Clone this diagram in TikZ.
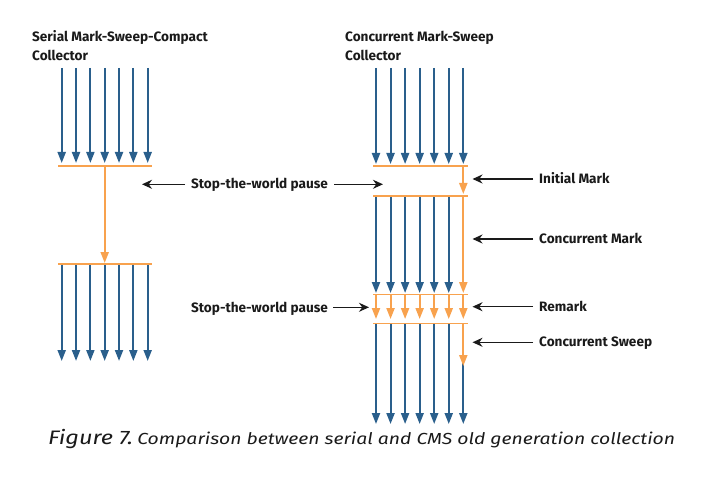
\documentclass[tikz,border=0pt]{standalone}
\usepackage{fontspec}
\setmainfont{Fira Sans}
\newfontfamily\capfont[FakeStretch=1.21]{Fira Sans}
\usetikzlibrary{arrows.meta}
\definecolor{gcblue}{HTML}{2A5F8C}
\definecolor{gcorange}{HTML}{F8A24E}
\definecolor{lblack}{HTML}{1A1A1A}
\tikzset{
  bluearrow/.style={draw=gcblue, line width=2pt, -{Triangle[width=8pt,length=11pt]}},
  orarrow/.style={draw=gcorange, line width=2pt, -{Triangle[width=8pt,length=11pt]}},
  orline/.style={draw=gcorange, line width=1.7pt},
  lblarrow/.style={draw=lblack, line width=1.4pt, -{Stealth[width=9pt,length=10pt]}},
  ttl/.style={font=\bfseries\fontsize{13.6}{16}\selectfont, anchor=base west, inner sep=0pt, text=lblack},
  lbl/.style={font=\bfseries\fontsize{13.6}{16}\selectfont, anchor=base west, inner sep=0pt, text=lblack},
}
\begin{document}
\begin{tikzpicture}[x=1pt,y=-1pt]
\useasboundingbox (0,0) rectangle (712,489);
% titles
\node[ttl] (t1a) at (32,41.7) {Serial Mark-Sweep-Compact};
\node[ttl] (t1b) at (32,60.7) {Collector};
\node[ttl] (t2a) at (345,41.7) {Concurrent Mark-Sweep};
\node[ttl] (t2b) at (345,60.7) {Collector};
% ---------- left collector ----------
\foreach \i in {0,...,6} {
  \pgfmathsetmacro{\xx}{61.7+14.33*\i}
  \draw[bluearrow] (\xx,68) -- (\xx,163);
  \draw[bluearrow] (\xx,264) -- (\xx,361);
}
\draw[orline] (58,166) -- (152,166);
\draw[orline] (58,264) -- (152,264);
\draw[orarrow] (104.7,166) -- (104.7,263);
% ---------- right collector ----------
\foreach \i in {0,...,6} {
  \pgfmathsetmacro{\xx}{376+14.55*\i}
  \draw[bluearrow] (\xx,68) -- (\xx,164);
  \draw[orarrow] (\xx,294.5) -- (\xx,319);
}
\foreach \i in {0,...,5} {
  \pgfmathsetmacro{\xx}{376+14.55*\i}
  \draw[bluearrow] (\xx,196) -- (\xx,293);
  \draw[bluearrow] (\xx,323.5) -- (\xx,424);
}
\draw[orarrow] (463.3,166) -- (463.3,194);
\draw[orarrow] (463.3,196) -- (463.3,293);
\draw[bluearrow] (463.3,360) -- (463.3,424);
\draw[orarrow] (463.3,323.5) -- (463.3,366);
\draw[orline] (373,166) -- (468,166);
\draw[orline] (373,196) -- (468,196);
\draw[orline] (373,294.5) -- (468,294.5);
\draw[orline] (373,323.5) -- (468,323.5);
% ---------- labels ----------
\node[lbl] (stw1) at (191,189) {Stop-the-world pause};
\coordinate (stw1l) at (142,184.3);
\coordinate (stw1r) at (383,184.3);
\draw[lblarrow] (stw1.west |- stw1l) ++(-6,0) coordinate (s1a) -- (stw1l);
\draw[lblarrow] (stw1.east |- stw1r) ++(6,0) coordinate (s1b) -- (stw1r);
\node[lbl] (stw2) at (191,312) {Stop-the-world pause};
\coordinate (stw2r) at (369,307.3);
\draw[lblarrow] (stw2.east |- stw2r) ++(5,0) coordinate (s2b) -- (stw2r);
\node[lbl] (im) at (539,183.5) {Initial Mark};
\node[lbl] (cm) at (539,243.5) {Concurrent Mark};
\node[lbl] (rm) at (539,311) {Remark};
\node[lbl] (cs) at (539,346.8) {Concurrent Sweep};
\coordinate (imt) at (472.5,179);
\coordinate (cmt) at (472.5,239);
\coordinate (rmt) at (472.5,306.7);
\coordinate (cst) at (472.5,342.3);
\draw[lblarrow] (im.west |- imt) ++(-6,0) -- (imt);
\draw[lblarrow] (cm.west |- cmt) ++(-6,0) -- (cmt);
\draw[lblarrow] (rm.west |- rmt) ++(-6,0) -- (rmt);
\draw[lblarrow] (cs.west |- cst) ++(-6,0) -- (cst);
% ---------- caption ----------
\node[anchor=base west, inner sep=0pt, text=lblack] (cap) at (48,444)
  {\capfont\itshape{\fontsize{19.5}{22}\selectfont Figure 7.} {\fontsize{16}{19}\selectfont Comparison between serial and CMS old generation collection}};
\end{tikzpicture}
\end{document}
